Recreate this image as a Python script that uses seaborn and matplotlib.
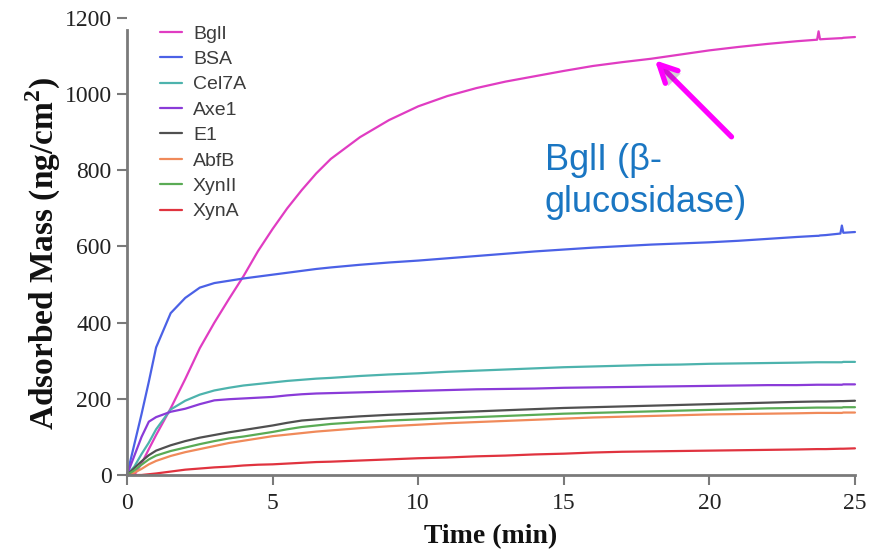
import matplotlib
matplotlib.use("Agg")
import matplotlib.pyplot as plt
import matplotlib.patheffects as pe
import pandas as pd
import seaborn as sns

# Sampling times (min)
minutes = [0, 0.25, 0.5, 0.75, 1, 1.5, 2, 2.5, 3, 3.5, 4, 4.5, 5, 5.5, 6, 6.5,
           7, 8, 9, 10, 11, 12, 13, 14, 15, 16, 17, 18, 19, 20, 21, 22, 23,
           23.7, 23.75, 23.8, 24, 24.5, 24.55, 24.6, 25]

# Adsorbed mass (ng/cm^2) for each protein
bgli = [0, 0, 30, 68, 105, 175, 252, 333, 400, 462, 522, 588, 646, 700, 748,
        792, 830, 887, 932, 968, 995, 1016, 1033, 1047, 1061, 1074, 1084,
        1093, 1104, 1115, 1124, 1132, 1139, 1143, 1165, 1144, 1145, 1147,
        1147, 1148, 1150]
bsa = [0, 80, 160, 245, 335, 425, 465, 492, 504, 510, 516, 521, 526, 531, 536,
       541, 545, 552, 558, 563, 569, 575, 581, 587, 592, 597, 601, 605, 608,
       611, 615, 620, 625, 628, 628, 629, 630, 634, 655, 636, 638]
cel7a = [0, 22, 55, 85, 120, 172, 195, 211, 222, 229, 235, 239, 243, 247, 250,
         253, 255, 260, 264, 267, 271, 274, 277, 280, 283, 285, 287, 289, 290,
         292, 293, 294, 295, 296, 296, 296, 296, 296, 296, 297, 297]
axe1 = [0, 50, 100, 140, 152, 166, 174, 186, 196, 199, 201, 203, 205, 209,
        212, 214, 215, 217, 219, 221, 223, 225, 226, 227, 229, 230, 231, 232,
        233, 234, 235, 236, 236, 237, 237, 237, 237, 237, 237, 238, 238]
e1 = [0, 18, 36, 52, 64, 78, 89, 98, 105, 112, 118, 124, 130, 137, 143, 146,
      149, 154, 158, 161, 164, 167, 170, 173, 176, 178, 180, 182, 184, 186,
      188, 190, 192, 193, 193, 193, 193, 194, 194, 194, 195]
abfb = [0, 6, 16, 28, 37, 50, 60, 68, 76, 84, 90, 96, 102, 106, 110, 114, 117,
        123, 128, 132, 136, 139, 142, 145, 148, 151, 153, 155, 157, 159, 160,
        161, 162, 163, 163, 163, 163, 163, 163, 164, 164]
xynii = [0, 12, 27, 41, 51, 63, 72, 81, 89, 96, 101, 107, 113, 120, 126, 130,
         134, 139, 143, 146, 149, 152, 155, 158, 161, 163, 165, 167, 169, 171,
         173, 175, 176, 177, 177, 177, 177, 177, 177, 178, 178]
xyna = [0, 0, 0, 2, 4, 9, 14, 17, 20, 22, 25, 27, 28, 30, 32, 34, 35, 38, 41,
        44, 46, 49, 51, 54, 56, 59, 61, 62, 63, 64, 65, 66, 67, 68, 68, 68, 68,
        69, 69, 69, 70]

proteins = ["BglI", "BSA", "Cel7A", "Axe1", "E1", "AbfB", "XynII", "XynA"]
line_colors = ["#e03cc2", "#4b61e6", "#4db3ad", "#8a3bd8", "#505050",
               "#f08a5a", "#5aab55", "#e0333f"]
y_ticks = [0, 200, 400, 600, 800, 1000, 1200]
x_ticks = [0, 5, 10, 15, 20, 25]

values = [bgli, bsa, cel7a, axe1, e1, abfb, xynii, xyna]
df = pd.concat(
    [pd.DataFrame({"time": minutes, "mass": v, "protein": p})
     for p, v in zip(proteins, values)],
    ignore_index=True,
)

sns.set_style("white")
plt.rcParams["font.family"] = ["Liberation Serif", "DejaVu Serif"]
plt.rcParams["mathtext.fontset"] = "custom"
plt.rcParams["mathtext.rm"] = "Liberation Serif"
plt.rcParams["mathtext.bf"] = "Liberation Serif:bold"

fig = plt.figure(figsize=(8.71, 5.52), dpi=100)
ax = fig.add_axes([0.1458, 0.1395, 0.8358, 0.8279])

sns.lineplot(
    data=df, x="time", y="mass", hue="protein", hue_order=proteins,
    palette=dict(zip(proteins, line_colors)), estimator=None, sort=False,
    linewidth=1.6, ax=ax, clip_on=False,
)

ax.set_xlim(0, 25)
ax.set_ylim(0, 1200)
ax.set_xticks(x_ticks)
ax.set_yticks(y_ticks)
ax.set_xticklabels([str(t) for t in x_ticks])
ax.set_yticklabels([str(t) for t in y_ticks])

axis_grey = "#7a7a7a"
for side in ("top", "right"):
    ax.spines[side].set_visible(False)
for side in ("left", "bottom"):
    ax.spines[side].set_color(axis_grey)
    ax.spines[side].set_linewidth(2.0)
ax.spines["left"].set_bounds(0, 1168)
ax.tick_params(axis="both", which="major", bottom=True, left=True,
               direction="out", length=7, width=1.5, color=axis_grey,
               labelsize=17, labelcolor="#222222")
ax.tick_params(axis="x", pad=6)
ax.tick_params(axis="y", pad=4)

ax.set_xlabel("Time (min)", fontsize=20, fontweight="bold", color="#111111")
ax.set_ylabel(r"Adsorbed Mass (ng/cm$^{\mathbf{2}}$)", fontsize=24,
              fontweight="bold", color="#111111")
ax.xaxis.set_label_coords(0.5, -0.108)
ax.yaxis.set_label_coords(-0.088, 0.485)

handles, labels = ax.get_legend_handles_labels()
leg = ax.legend(
    handles, labels, loc="upper left",
    bbox_to_anchor=(160 / 871, 1 - 25 / 552), bbox_transform=fig.transFigure,
    frameon=False, borderpad=0, borderaxespad=0, handlelength=1.15,
    handletextpad=0.55, labelspacing=0.4,
    prop={"family": "Liberation Sans", "size": 14},
)
for txt in leg.get_texts():
    txt.set_color("#3c3c3c")

# Callout for the beta-glucosidase curve
ax.annotate(
    "", xy=(18.13, 1089), xytext=(20.76, 888),
    arrowprops=dict(arrowstyle="->", color="#ff00ff", lw=3.8,
                    mutation_scale=32, shrinkA=0, shrinkB=0,
                    path_effects=[pe.SimplePatchShadow(offset=(2, -2),
                                                       alpha=0.25),
                                  pe.Normal()]),
)
ax.text(14.35, 800, "BglI (β-", fontsize=26, color="#1a76c2",
        family="Liberation Sans", ha="left", va="baseline")
ax.text(14.35, 691, "glucosidase)", fontsize=26, color="#1a76c2",
        family="Liberation Sans", ha="left", va="baseline")

fig.savefig("out.png", dpi=100)
